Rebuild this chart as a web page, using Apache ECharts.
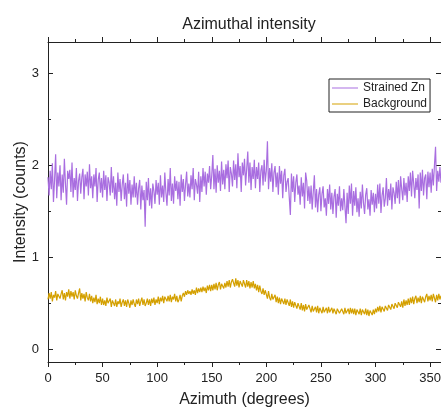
<!DOCTYPE html>
<html>
<head>
<meta charset="utf-8">
<script src="https://cdn.jsdelivr.net/npm/echarts@6/dist/echarts.min.js"></script>
<style>
html,body{margin:0;padding:0;background:#fff;}
#chart{width:441px;height:412px;}
</style>
</head>
<body>
<div id="chart"></div>
<script>
// Azimuth angles (degrees), one sample per degree
var azimuth = [];
for (var a = 0; a <= 360; a++) azimuth.push(a);

var seriesNames = ['Strained Zn', 'Background'];

var strainedZn = [
1.87,1.67,1.94,1.74,2.02,1.60,1.84,2.12,1.64,1.92,
1.77,2.00,1.62,1.90,1.70,2.07,1.80,1.57,1.94,1.85,
1.95,1.71,2.03,1.65,1.86,1.73,1.97,1.61,1.83,1.91,
1.69,1.87,1.96,1.63,1.90,1.77,1.93,1.67,2.01,1.75,
1.88,1.64,1.90,1.77,1.97,1.60,1.84,1.92,1.70,1.86,
1.65,1.94,1.73,1.89,1.61,1.87,1.81,1.67,1.98,1.70,
1.88,1.63,1.81,1.56,1.92,1.71,1.85,1.61,1.79,1.90,
1.63,1.81,1.55,1.91,1.69,1.84,1.57,1.79,1.65,1.88,
1.65,1.81,1.57,1.75,1.84,1.52,1.78,1.62,1.73,1.33,
1.82,1.62,1.86,1.56,1.75,1.53,1.80,1.72,1.58,1.84,
1.68,1.81,1.57,1.89,1.65,1.78,1.60,1.92,1.70,1.56,
1.85,1.67,1.97,1.61,1.80,1.58,1.88,1.72,1.83,1.63,
1.82,1.56,1.90,1.71,1.85,1.61,1.79,1.93,1.66,1.80,
1.65,1.89,1.74,1.97,1.62,1.85,1.79,1.69,1.93,1.60,
1.88,1.71,1.97,1.77,1.93,1.68,1.91,1.81,1.99,1.74,
1.89,2.11,1.74,1.96,1.70,2.00,1.81,1.94,1.72,2.04,
1.79,1.95,1.74,2.01,1.86,2.05,1.71,1.98,1.91,1.77,
2.05,1.84,2.01,1.75,2.13,1.87,1.99,1.71,2.03,1.89,
2.07,1.78,1.96,2.15,1.81,2.03,1.73,1.98,1.85,2.06,
1.75,1.98,1.85,2.03,1.71,1.94,2.00,1.78,2.06,1.82,
1.94,2.26,1.74,1.97,1.82,2.02,1.71,1.92,1.99,1.76,
1.92,1.68,1.99,1.80,1.94,1.64,1.89,1.96,1.71,1.82,
1.86,1.65,1.46,1.91,1.71,1.88,1.60,1.81,1.90,1.68,
1.78,1.57,1.87,1.66,1.81,1.53,1.92,1.83,1.61,1.77,
1.58,1.78,1.52,1.71,1.89,1.54,1.74,1.49,1.68,1.76,
1.50,1.69,1.77,1.54,1.64,1.45,1.74,1.58,1.79,1.52,
1.70,1.47,1.66,1.74,1.43,1.69,1.56,1.77,1.50,1.64,
1.51,1.74,1.55,1.37,1.70,1.47,1.78,1.58,1.80,1.45,
1.72,1.56,1.76,1.49,1.64,1.44,1.71,1.53,1.79,1.59,
1.47,1.68,1.75,1.52,1.63,1.45,1.73,1.57,1.70,1.49,
1.69,1.53,1.79,1.58,1.80,1.48,1.67,1.76,1.55,1.64,
1.86,1.56,1.74,1.62,1.80,1.52,1.76,1.70,1.58,1.82,
1.64,1.84,1.58,1.88,1.74,1.62,1.86,1.67,1.81,1.60,
1.88,1.72,1.92,1.66,1.94,1.80,1.64,1.86,1.73,1.90,
1.53,1.92,1.72,1.95,1.67,1.86,1.90,1.63,1.93,1.76,
1.92,1.70,1.96,1.78,2.00,2.20,1.72,1.94,1.82,1.98,1.81
];

var background = [
0.54,0.61,0.55,0.62,0.52,0.59,0.56,0.63,0.53,0.60,
0.62,0.55,0.60,0.64,0.54,0.61,0.53,0.62,0.57,0.65,
0.55,0.63,0.57,0.62,0.54,0.64,0.58,0.55,0.61,0.66,
0.53,0.61,0.55,0.60,0.52,0.62,0.56,0.53,0.60,0.52,
0.58,0.50,0.56,0.51,0.59,0.49,0.55,0.50,0.57,0.48,
0.55,0.48,0.53,0.47,0.56,0.50,0.48,0.55,0.46,0.53,
0.52,0.47,0.54,0.46,0.52,0.49,0.55,0.46,0.51,0.54,
0.47,0.53,0.46,0.54,0.50,0.45,0.53,0.48,0.54,0.49,
0.46,0.54,0.49,0.55,0.47,0.52,0.56,0.48,0.54,0.47,
0.50,0.55,0.48,0.54,0.47,0.55,0.50,0.56,0.48,0.54,
0.50,0.57,0.49,0.56,0.52,0.58,0.50,0.57,0.59,0.52,
0.58,0.52,0.59,0.51,0.57,0.54,0.60,0.52,0.58,0.51,
0.54,0.59,0.52,0.58,0.61,0.57,0.63,0.59,0.64,0.60,
0.63,0.59,0.65,0.60,0.64,0.59,0.67,0.61,0.66,0.62,
0.67,0.62,0.68,0.63,0.67,0.61,0.69,0.64,0.70,0.63,
0.70,0.64,0.71,0.65,0.72,0.64,0.70,0.73,0.65,0.71,
0.73,0.66,0.72,0.67,0.74,0.68,0.75,0.67,0.73,0.76,
0.74,0.68,0.77,0.69,0.75,0.67,0.74,0.76,0.68,0.75,
0.73,0.67,0.75,0.68,0.74,0.66,0.73,0.67,0.74,0.66,
0.71,0.64,0.70,0.62,0.69,0.63,0.60,0.66,0.59,0.64,
0.62,0.55,0.63,0.56,0.53,0.60,0.54,0.52,0.59,0.51,
0.57,0.50,0.56,0.49,0.55,0.57,0.49,0.55,0.48,0.54,
0.53,0.47,0.54,0.46,0.52,0.45,0.51,0.53,0.44,0.50,
0.49,0.43,0.50,0.42,0.48,0.41,0.49,0.43,0.41,0.48,
0.46,0.40,0.47,0.41,0.39,0.46,0.40,0.47,0.39,0.45,
0.45,0.39,0.46,0.40,0.38,0.45,0.39,0.46,0.40,0.38,
0.45,0.39,0.44,0.46,0.38,0.44,0.45,0.39,0.37,0.44,
0.44,0.38,0.45,0.39,0.37,0.44,0.38,0.45,0.39,0.44,
0.38,0.44,0.37,0.43,0.45,0.38,0.44,0.37,0.43,0.45,
0.38,0.44,0.37,0.43,0.36,0.42,0.44,0.37,0.43,0.38,
0.44,0.40,0.46,0.41,0.47,0.40,0.46,0.48,0.41,0.47,
0.49,0.42,0.48,0.50,0.43,0.49,0.51,0.44,0.50,0.52,
0.45,0.51,0.53,0.46,0.52,0.45,0.54,0.47,0.53,0.48,
0.55,0.48,0.56,0.50,0.57,0.49,0.55,0.58,0.50,0.56,
0.51,0.58,0.50,0.57,0.59,0.51,0.57,0.60,0.52,0.58,
0.53,0.59,0.52,0.60,0.58,0.51,0.59,0.53,0.60,0.54,0.58
];

var xMajorTicks = [0, 50, 100, 150, 200, 250, 300, 350];
var xMinorTicks = [25, 75, 125, 175, 225, 275, 325];
var yMajorTicks = [0, 1, 2, 3];
var yMinorTicks = [0.5, 1.5, 2.5];

var xMin = 0, xMax = 360, yMin = -0.14, yMax = 3.34;

var FONT = '"Liberation Sans", Arial, sans-serif';
var AX = '#222';

function zip(xs, ys) { return xs.map(function (x, i) { return [x, ys[i]]; }); }

function xAxisDef(pos, ticks, len, showLine, labels) {
  return {
    type: 'value', position: pos, min: xMin, max: xMax,
    splitLine: { show: false },
    axisLine: { show: showLine, onZero: false, lineStyle: { color: AX, width: 1 } },
    axisTick: { show: true, inside: false, length: len, customValues: ticks, lineStyle: { color: AX } },
    axisLabel: labels ? { show: true, customValues: ticks, margin: 10, fontSize: 13, color: AX, fontFamily: FONT } : { show: false },
    name: labels ? 'Azimuth (degrees)' : '',
    nameLocation: 'middle', nameGap: 30, nameMoveOverlap: false,
    nameTextStyle: { fontSize: 16, color: AX, fontFamily: FONT }
  };
}
function yAxisDef(pos, ticks, len, showLine, labels) {
  return {
    type: 'value', position: pos, min: yMin, max: yMax,
    splitLine: { show: false },
    axisLine: { show: showLine, onZero: false, lineStyle: { color: AX, width: 1 } },
    axisTick: { show: true, inside: true, length: len, customValues: ticks, lineStyle: { color: AX } },
    axisLabel: labels ? { show: true, customValues: ticks, margin: 9, fontSize: 13, color: AX, fontFamily: FONT } : { show: false },
    name: labels ? 'Intensity (counts)' : '',
    nameLocation: 'middle', nameGap: 19, nameMoveOverlap: false,
    nameTextStyle: { fontSize: 16, color: AX, fontFamily: FONT }
  };
}

var chart = echarts.init(document.getElementById('chart'), null, { renderer: 'canvas' });
chart.setOption({
  animation: false,
  backgroundColor: '#fff',
  title: {
    text: 'Azimuthal intensity', left: 244, top: 12, textAlign: 'center',
    textStyle: { fontSize: 16, fontWeight: 'normal', color: AX, fontFamily: FONT }
  },
  legend: {
    orient: 'vertical', left: 329, top: 79,
    padding: [2, 3, 1, 3], itemGap: 2, itemWidth: 26, itemHeight: 1, icon: 'rect',
    borderColor: '#222', borderWidth: 1, backgroundColor: '#fff',
    textStyle: { fontSize: 12, color: AX, fontFamily: FONT, lineHeight: 14 },
    data: seriesNames
  },
  grid: { left: 48, right: 0, top: 42, bottom: 50, containLabel: false, outerBoundsMode: 'none' },
  xAxis: [
    xAxisDef('bottom', xMajorTicks, 5, true, true),
    xAxisDef('bottom', xMinorTicks, 3, false, false),
    xAxisDef('top', xMajorTicks, 5, true, false),
    xAxisDef('top', xMinorTicks, 3, false, false)
  ],
  yAxis: [
    yAxisDef('left', yMajorTicks, 5, true, true),
    yAxisDef('left', yMinorTicks, 3, false, false),
    yAxisDef('right', yMajorTicks, 5, true, false),
    yAxisDef('right', yMinorTicks, 3, false, false)
  ],
  series: [
    {
      name: seriesNames[0], type: 'line', xAxisIndex: 0, yAxisIndex: 0,
      data: zip(azimuth, strainedZn), symbol: 'none', showSymbol: false,
      lineStyle: { color: '#a96ee0', width: 1.2 }, itemStyle: { color: '#a96ee0' },
      clip: true, z: 3
    },
    {
      name: seriesNames[1], type: 'line', xAxisIndex: 0, yAxisIndex: 0,
      data: zip(azimuth, background), symbol: 'none', showSymbol: false,
      lineStyle: { color: '#d4a000', width: 1.2 }, itemStyle: { color: '#d4a000' },
      clip: true, z: 3
    }
  ]
});
</script>
</body>
</html>
